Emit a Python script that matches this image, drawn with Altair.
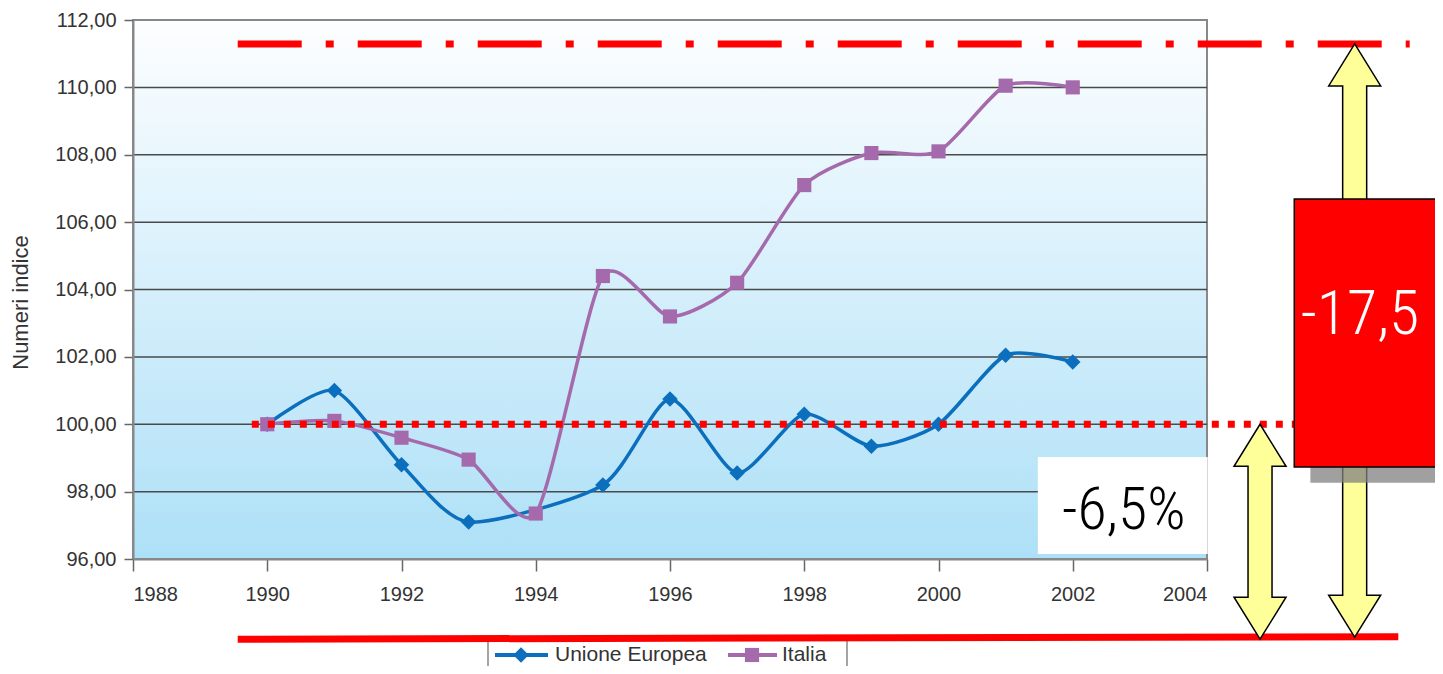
import altair as alt
import pandas as pd

# ---------------- data ----------------
eu_years = [1990, 1991, 1992, 1993, 1995, 1996, 1997, 1998, 1999, 2000, 2001, 2002]
eu_values = [100.0, 101.0, 98.8, 97.1, 98.2, 100.75, 98.55, 100.3, 99.35, 100.0, 102.05, 101.85]
it_years = [1990, 1991, 1992, 1993, 1994, 1995, 1996, 1997, 1998, 1999, 2000, 2001, 2002]
it_values = [100.0, 100.1, 99.6, 98.95, 97.35, 104.4, 103.2, 104.2, 107.1, 108.05, 108.1, 110.05, 110.0]
x_ticks = [1988, 1990, 1992, 1994, 1996, 1998, 2000, 2002, 2004]
y_ticks = [96, 98, 100, 102, 104, 106, 108, 110, 112]
series_names = ["Unione Europea", "Italia"]
y_title = "Numeri indice"

# annotations (in data units)
top_line = {"x": 1989.56, "x2": 2007.02, "y": 111.29, "y2": 111.29}
ref_line = {"x": 1989.77, "x2": 2005.30, "y": 100.0, "y2": 100.0}
base_line = {"x": 1989.56, "x2": 2006.85, "y": 93.62, "y2": 93.69}
arrow1 = {"x": 2004.79, "top": 100.0, "bottom": 93.62}
arrow2 = {"x": 2006.20, "top": 111.29, "bottom": 93.68}
red_box = {"x": 2005.30, "x2": 2007.46, "y": 106.69, "y2": 98.73}
shadow_box = {"x": 2005.54, "x2": 2007.80, "y": 106.21, "y2": 98.26}
white_box = {"x": 2001.48, "x2": 2004.01, "y": 99.03, "y2": 96.15}
label_big = {"x": 2006.28, "y": 102.68, "text": "-17,5"}
label_small = {"x": 2002.76, "y": 96.89, "text": "-6,5%"}

# ---------------- styling ----------------
W, H = 1074, 539
PX_PER_UNIT = H / 16.0
EU_COLOR = "#0b6fbd"
IT_COLOR = "#a46aac"
RED = "#ff0000"
FONT = "Liberation Sans"
BIG_FONT = "Roboto Condensed, Liberation Sans Narrow, DejaVu Sans Condensed, sans-serif"

xscale = alt.Scale(domain=[1988, 2004], nice=False, zero=False)
yscale = alt.Scale(domain=[96, 112], nice=False, zero=False)
X = alt.X("x:Q", scale=xscale, axis=alt.Axis(
    values=x_ticks, format="d", title="", grid=False, zindex=1,
    labelFont=FONT, labelFontSize=20, labelColor="#333", labelPadding=13,
    tickColor="#666", tickSize=12, tickWidth=1.5,
    domainColor="#888", domainWidth=2))
Y = alt.Y("y:Q", scale=yscale, axis=alt.Axis(
    values=y_ticks, title=y_title, grid=False, zindex=1,
    labelExpr="replace(format(datum.value, '.2f'), '.', ',')",
    labelFont=FONT, labelFontSize=20, labelColor="#333", labelPadding=8,
    tickColor="#666", tickSize=9, tickWidth=1.5,
    domainColor="#888", domainWidth=2,
    titleFont=FONT, titleFontSize=22, titleFontWeight="normal", titleColor="#333",
    titlePadding=22, titleY=282))

one = pd.DataFrame({"a": [0]})

background = alt.Chart(one).mark_rect(
    fill=alt.Gradient(gradient="linear",
                      stops=[alt.GradientStop(color="#fdfeff", offset=0),
                             alt.GradientStop(color="#ade0f7", offset=1)],
                      x1=0, x2=0, y1=0, y2=1),
    stroke="#888", strokeWidth=2
).encode(x=alt.value(0), x2=alt.value(W), y=alt.value(0), y2=alt.value(H))

grid = alt.Chart(pd.DataFrame({"y": y_ticks[1:-1]})).mark_rule(
    color="#4a4a4a", strokeWidth=1.5).encode(y=Y)

eu_df = pd.DataFrame({"x": eu_years, "y": eu_values})
it_df = pd.DataFrame({"x": it_years, "y": it_values})

eu_line = alt.Chart(eu_df).mark_line(interpolate="cardinal", tension=0.3, color=EU_COLOR,
                                     strokeWidth=3.5).encode(x=X, y=Y)
eu_pts = alt.Chart(eu_df).mark_point(shape="diamond", filled=True, size=240,
                                     color=EU_COLOR, opacity=1).encode(x=X, y=Y)
it_line = alt.Chart(it_df).mark_line(interpolate="cardinal", tension=0.3, color=IT_COLOR,
                                     strokeWidth=3.5).encode(x=X, y=Y)
it_pts = alt.Chart(it_df).mark_point(shape="square", filled=True, size=200,
                                     color=IT_COLOR, opacity=1).encode(x=X, y=Y)


def rule(d, dash=None):
    kw = dict(color=RED, strokeWidth=7)
    if dash:
        kw["strokeDash"] = dash
    return alt.Chart(pd.DataFrame([d])).mark_rule(**kw).encode(
        x=X, x2="x2:Q", y=Y, y2="y2:Q")


top_rule = rule(top_line, [64, 24, 8, 24])
ref_rule = rule(ref_line, [7, 9])
base_rule = rule(base_line)


def arrow(a, h=42, w=26, s=12):
    L = (a["top"] - a["bottom"]) * PX_PER_UNIT / 2.0
    p = (f"M0,{-L}L{w},{-L + h}L{s},{-L + h}L{s},{L - h}L{w},{L - h}L0,{L}"
         f"L{-w},{L - h}L{-s},{L - h}L{-s},{-L + h}L{-w},{-L + h}Z")
    df = pd.DataFrame({"x": [a["x"]], "y": [(a["top"] + a["bottom"]) / 2.0]})
    return alt.Chart(df).mark_point(shape=p, size=4, filled=True, fill="#ffff99",
                                    stroke="#000", strokeWidth=1.5, opacity=1,
                                    fillOpacity=1, strokeOpacity=1).encode(x=X, y=Y)


def box(d, **kw):
    return alt.Chart(pd.DataFrame([d])).mark_rect(**kw).encode(
        x=X, x2="x2:Q", y=Y, y2="y2:Q")


shadow = box(shadow_box, fill="#808080", opacity=0.75)
redbox = box(red_box, fill=RED, stroke="#000", strokeWidth=1.5)
whitebox = box(white_box, fill="white")

txt_big = alt.Chart(pd.DataFrame([label_big])).mark_text(
    font=BIG_FONT, fontSize=62, fontWeight=300, color="white", align="center",
    baseline="alphabetic").encode(x=X, y=Y, text="text:N")
txt_small = alt.Chart(pd.DataFrame([label_small])).mark_text(
    font=BIG_FONT, fontSize=60, fontWeight=300, color="black", align="center",
    baseline="alphabetic").encode(x=X, y=Y, text="text:N")

# ---------------- custom legend (pixel placed, below the plot) ----------------
legend_box = alt.Chart(one).mark_rect(fill="white", stroke="#888", strokeWidth=1.5).encode(
    x=alt.value(355), x2=alt.value(714), y=alt.value(617), y2=alt.value(700))
LY = 635
leg_eu_line = alt.Chart(one).mark_rule(color=EU_COLOR, strokeWidth=4).encode(
    x=alt.value(362), x2=alt.value(415), y=alt.value(LY))
leg_eu_pt = alt.Chart(one).mark_point(shape="diamond", filled=True, size=240,
                                      color=EU_COLOR, opacity=1).encode(
    x=alt.value(388), y=alt.value(LY))
leg_eu_txt = alt.Chart(one).mark_text(font=FONT, fontSize=21, color="#333", align="left",
                                      baseline="middle", text=series_names[0]).encode(
    x=alt.value(422), y=alt.value(LY))
leg_it_line = alt.Chart(one).mark_rule(color=IT_COLOR, strokeWidth=4).encode(
    x=alt.value(595), x2=alt.value(644), y=alt.value(LY))
leg_it_pt = alt.Chart(one).mark_point(shape="square", filled=True, size=200,
                                      color=IT_COLOR, opacity=1).encode(
    x=alt.value(619), y=alt.value(LY))
leg_it_txt = alt.Chart(one).mark_text(font=FONT, fontSize=21, color="#333", align="left",
                                      baseline="middle", text=series_names[1]).encode(
    x=alt.value(649), y=alt.value(LY))

chart = alt.layer(
    background, grid,
    eu_line, it_line, eu_pts, it_pts,
    top_rule, ref_rule,
    legend_box, base_rule,
    arrow(arrow1), arrow(arrow2),
    shadow, redbox, whitebox, txt_big, txt_small,
    leg_eu_line, leg_eu_pt, leg_eu_txt, leg_it_line, leg_it_pt, leg_it_txt,
).properties(
    width=W, height=H,
    autosize=alt.AutoSizeParams(type="none"),
    padding={"left": 125, "top": 12, "right": 228, "bottom": 107},
).configure_view(stroke=None).configure(background="white")

chart.save("out.html", embed_options={"renderer": "svg", "actions": False})
